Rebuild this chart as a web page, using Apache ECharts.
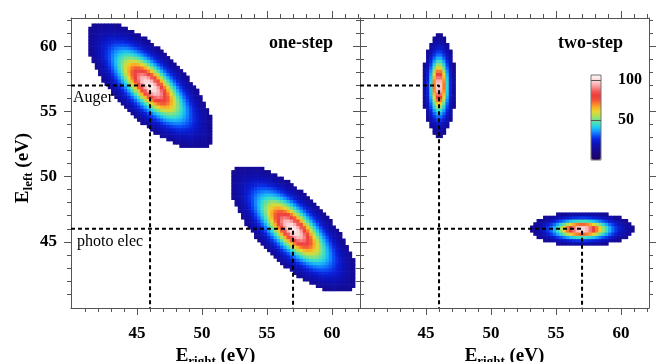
<!DOCTYPE html>
<html><head><meta charset="utf-8">
<script src="https://cdn.jsdelivr.net/npm/echarts@6/dist/echarts.min.js"></script>
<style>html,body{margin:0;padding:0;background:#fff}#c{width:657px;height:362px}</style>
</head><body><div id="c"></div>
<script>
// ---------------- data ----------------
const panelTitles = ['one-step', 'two-step'];
const peakNames = ['Auger', 'photo elec'];
const majorTicks = [45, 50, 55, 60];
const majorTickLabels = ['45', '50', '55', '60'];
const minorTicks = [41, 42, 43, 44, 46, 47, 48, 49, 51, 52, 53, 54, 56, 57, 58, 59, 61, 62];
const colorbarTicks = [50, 100];
const colorbarLabels = ['50', '100'];
const colorbarMin = 0;
const colorbarMax = 106;

// coincidence peaks, per panel: [Auger, photo elec]  (eV)
const peakCentreX = [[46, 57], [46, 57]];
const peakCentreY = [[57, 46], [57, 46]];
const peakAngleDeg = [[-45, -45], [0, 0]];
// semi-axes of the outer (lowest drawn) contour
const peakEdgeU = [[6.3, 6.3], [1.22, 3.85]];
const peakEdgeV = [[2.55, 2.55], [3.85, 1.28]];
const peakHeight = [[103, 103], [103, 103]];
// peak shape: height / (1 + q / shapeWidth2)^shapePower, q = 1 at the outer contour
const shapeWidth2 = 0.334;
const shapePower = 1.5;
const countCutoff = 12.5;
const cellStep = 0.25;

// dashed guide lines: photo-electron / Auger energies
const guideX = [46, 57];
const guideY = [57, 46];

// ---------------- presentation ----------------
const axMin = 39.92, xAxMax = 62.15, yAxMax = 62.17;
const FF = "'Liberation Serif','Times New Roman',serif";
const AX = '#555';

function buildCells(p) {
  const cells = [];
  const n = Math.round(22 / cellStep);
  for (let i = 0; i < n; i++) {
    const x = 40 + (i + 0.5) * cellStep;
    for (let j = 0; j < n; j++) {
      const y = 40 + (j + 0.5) * cellStep;
      let v = 0;
      for (let k = 0; k < peakCentreX[p].length; k++) {
        const dx = x - peakCentreX[p][k], dy = y - peakCentreY[p][k];
        const a = peakAngleDeg[p][k] * Math.PI / 180;
        const u = dx * Math.cos(a) + dy * Math.sin(a);
        const w = -dx * Math.sin(a) + dy * Math.cos(a);
        const q = (u / peakEdgeU[p][k]) ** 2 + (w / peakEdgeV[p][k]) ** 2;
        v = Math.max(v, peakHeight[p][k] * Math.pow(1 + q / shapeWidth2, -shapePower));
      }
      if (v >= countCutoff) cells.push([x, y, +v.toFixed(2)]);
    }
  }
  return cells;
}

const labelFmt = v => { const i = majorTicks.indexOf(Math.round(v)); return i >= 0 ? majorTickLabels[i] : ''; };

const nameRich = {
  b: { fontFamily: FF, fontWeight: 'bold', fontSize: 19, lineHeight: 24, color: '#000' },
  s: { fontFamily: FF, fontWeight: 'bold', fontSize: 13, lineHeight: 14, verticalAlign: 'bottom', color: '#000' },
  n: { fontFamily: FF, fontWeight: 'bold', fontSize: 19, lineHeight: 24, color: '#000' },
  m: { fontFamily: FF, fontWeight: 'bold', fontSize: 19, lineHeight: 24, color: '#000', padding: [0, 10, 0, 0] }
};

function mkX(gridIndex, position, major, withLabels, withName) {
  return {
    type: 'value', gridIndex, position, min: axMin, max: xAxMax,
    splitLine: { show: false },
    axisLine: { show: major, onZero: false, lineStyle: { color: AX, width: 1 } },
    axisTick: { show: true, length: major ? 7 : 4, customValues: major ? majorTicks : minorTicks, lineStyle: { color: AX, width: 1 } },
    axisLabel: withLabels ? { show: true, customValues: majorTicks, formatter: labelFmt, margin: 17,
      color: '#000', fontFamily: FF, fontWeight: 'bold', fontSize: 17 } : { show: false },
    name: withName ? '{b|E}{s|right}{n| (eV)}' : '',
    nameLocation: 'middle', nameGap: 33,
    nameTextStyle: { rich: nameRich }
  };
}
function mkY(gridIndex, position, major, withLabels, withName) {
  return {
    type: 'value', gridIndex, position, min: axMin, max: yAxMax,
    splitLine: { show: false },
    axisLine: { show: major, onZero: false, lineStyle: { color: AX, width: 1 } },
    axisTick: { show: true, length: major ? 7 : 4, customValues: major ? majorTicks : minorTicks, lineStyle: { color: AX, width: 1 } },
    axisLabel: withLabels ? { show: true, customValues: majorTicks, formatter: labelFmt, margin: 14,
      color: '#000', fontFamily: FF, fontWeight: 'bold', fontSize: 17 } : { show: false },
    name: withName ? '{b|E}{s|left}{m| (eV)}' : '',
    nameLocation: 'middle', nameGap: 36,
    nameTextStyle: { rich: nameRich }
  };
}

const panelLeft = [71, 360];
const grids = [], xAxes = [], yAxes = [], series = [];
for (let p = 0; p < 2; p++) {
  const g = { left: panelLeft[p], top: 18, width: 289, height: 290, containLabel: false, outerBoundsMode: 'none' };
  const gMain = grids.length; grids.push(Object.assign({}, g));
  const gMinor = grids.length; grids.push(Object.assign({}, g));
  const xi = xAxes.length, yi = yAxes.length;
  xAxes.push(mkX(gMain, 'bottom', true, true, true));
  xAxes.push(mkX(gMain, 'top', true, false, false));
  xAxes.push(mkX(gMinor, 'bottom', false, false, false));
  xAxes.push(mkX(gMinor, 'top', false, false, false));
  yAxes.push(mkY(gMain, 'left', true, p === 0, p === 0));
  yAxes.push(mkY(gMain, 'right', true, false, false));
  yAxes.push(mkY(gMinor, 'left', false, false, false));
  yAxes.push(mkY(gMinor, 'right', false, false, false));

  series.push({
    type: 'custom', xAxisIndex: xi, yAxisIndex: yi, data: buildCells(p),
    dimensions: ['x', 'y', 'v'], encode: { x: 0, y: 1 }, silent: true, z: 1,
    renderItem: (params, api) => {
      const x = api.value(0), y = api.value(1), h = cellStep / 2;
      const p0 = api.coord([x - h, y + h]);
      const p1 = api.coord([x + h, y - h]);
      return { type: 'rect', shape: { x: p0[0], y: p0[1], width: p1[0] - p0[0] + 0.6, height: p1[1] - p0[1] + 0.6 },
        style: { fill: api.visual('color') } };
    }
  });
}
for (let p = 0; p < 2; p++) {
  for (let k = 0; k < guideX.length; k++) {
    series.push({
      type: 'line', xAxisIndex: 4 * p, yAxisIndex: 4 * p, silent: true, z: 5,
      symbol: 'none', animation: false,
      lineStyle: { color: '#000', width: 2, type: [4, 3] },
      data: [[axMin, guideY[k]], [guideX[k], guideY[k]], [guideX[k], axMin]]
    });
  }
}
// colour bar grid
const gBar = grids.length;
grids.push({ left: 591, top: 75, width: 10, height: 85, show: true, borderColor: '#777', borderWidth: 1, z: 10,
  containLabel: false, outerBoundsMode: 'none' });
xAxes.push({ type: 'value', gridIndex: gBar, show: false, min: 0, max: 1 });
yAxes.push({ type: 'value', gridIndex: gBar, position: 'right', min: colorbarMin, max: colorbarMax, z: 10,
  splitLine: { show: false }, axisLine: { show: false },
  axisTick: { show: true, length: 10, customValues: colorbarTicks, lineStyle: { color: AX, width: 1 } },
  axisLabel: { show: true, customValues: colorbarTicks, margin: 17, color: '#000', fontFamily: FF, fontWeight: 'bold', fontSize: 16,
    formatter: v => { const i = colorbarTicks.indexOf(Math.round(v)); return i >= 0 ? colorbarLabels[i] : ''; } } });

const chart = echarts.init(document.getElementById('c'), null, { renderer: 'canvas' });
chart.setOption({
  animation: false,
  backgroundColor: '#fff',
  grid: grids, xAxis: xAxes, yAxis: yAxes, series,
  visualMap: {
    type: 'continuous', seriesIndex: [0, 1], dimension: 2, min: colorbarMin, max: colorbarMax,
    show: true, calculable: false, hoverLink: false, left: 591, top: 75, itemWidth: 10, itemHeight: 85, padding: 0, z: 2,
    inRange: { color: ['#1e0064', '#1c0474', '#180888', '#120c9e', '#0c12b8', '#0a20d8', '#0a50f8', '#1490ff',
      '#1ec8f0', '#40e0c0', '#7ce08a', '#b8e050', '#e8d830', '#fab028', '#f87c2c', '#f04a3a', '#ee3c3c',
      '#f25a5a', '#f89090', '#fcc0c0', '#ffe0e0', '#fff8f8'] }
  },
  graphic: [
    { type: 'text', x: 269, y: 43, z: 20, style: { text: panelTitles[0], font: "bold 18px " + FF, fill: '#000', textAlign: 'left', textVerticalAlign: 'middle', align: 'left', verticalAlign: 'middle' } },
    { type: 'text', x: 558, y: 43, z: 20, style: { text: panelTitles[1], font: "bold 18px " + FF, fill: '#000', textAlign: 'left', textVerticalAlign: 'middle', align: 'left', verticalAlign: 'middle' } },
    { type: 'text', x: 73, y: 98, z: 20, style: { text: peakNames[0], font: "16px " + FF, fill: '#000', textAlign: 'left', textVerticalAlign: 'middle', align: 'left', verticalAlign: 'middle' } },
    { type: 'text', x: 77, y: 242, z: 20, style: { text: peakNames[1], font: "16px " + FF, fill: '#000', textAlign: 'left', textVerticalAlign: 'middle', align: 'left', verticalAlign: 'middle' } }
  ]
});
</script></body></html>
